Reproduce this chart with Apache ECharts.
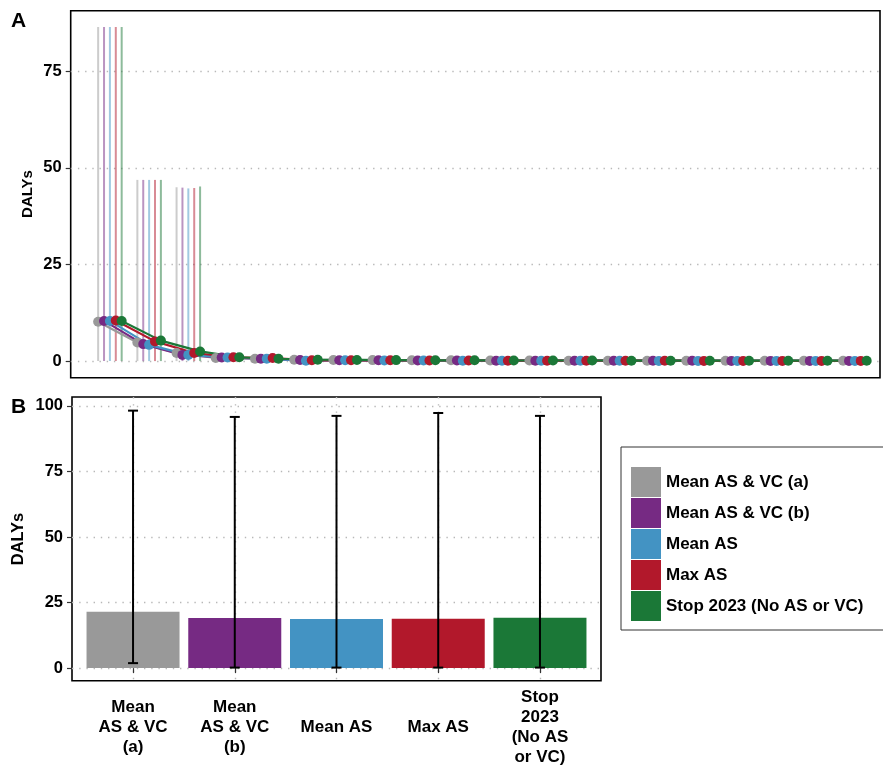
<!DOCTYPE html>
<html><head><meta charset="utf-8">
<script src="https://cdn.jsdelivr.net/npm/echarts@6/dist/echarts.min.js"></script>
<style>html,body{margin:0;padding:0;background:#fff}#c{width:883px;height:770px}</style>
</head><body><div id="c"></div>
<script>
// ---------- data ----------
const scenarios = ['Mean AS & VC (a)', 'Mean AS & VC (b)', 'Mean AS', 'Max AS', 'Stop 2023 (No AS or VC)'];
const colors = ['#999999', '#762A83', '#4393C3', '#B2182B', '#1B7837'];
const colorsAlpha = ['rgba(153,153,153,0.5)', 'rgba(118,42,131,0.5)', 'rgba(67,147,195,0.5)', 'rgba(178,24,43,0.5)', 'rgba(27,120,55,0.5)'];

// Panel A: 20 time steps
const steps = [1,2,3,4,5,6,7,8,9,10,11,12,13,14,15,16,17,18,19,20];
const aMeanVCa = [10.2, 4.8, 2.1, 0.8, 0.6, 0.35, 0.3, 0.25, 0.2, 0.2, 0.15, 0.15, 0.1, 0.1, 0.1, 0.1, 0.1, 0.1, 0.1, 0.1];
const aMeanVCb = [10.4, 4.4, 1.6, 0.95, 0.6, 0.26, 0.2, 0.2, 0.15, 0.15, 0.1, 0.1, 0.1, 0.1, 0.1, 0.1, 0.05, 0.05, 0.05, 0.05];
const aMeanAS  = [10.4, 4.2, 1.6, 0.95, 0.6, 0.1, 0.2, 0.15, 0.15, 0.1, 0.1, 0.1, 0.1, 0.1, 0.05, 0.05, 0.05, 0.05, 0.05, 0.05];
const aMaxAS   = [10.5, 5.1, 2.1, 1.0, 0.8, 0.2, 0.2, 0.2, 0.15, 0.15, 0.1, 0.1, 0.1, 0.1, 0.1, 0.05, 0.05, 0.05, 0.05, 0.05];
const aStop    = [10.4, 5.3, 2.5, 1.0, 0.6, 0.35, 0.3, 0.25, 0.2, 0.2, 0.15, 0.15, 0.15, 0.1, 0.1, 0.1, 0.1, 0.1, 0.1, 0.1];
const aLow     = [0, 0, 0, 0, 0, 0, 0, 0, 0, 0, 0, 0, 0, 0, 0, 0, 0, 0, 0, 0];
const hiMeanVCa = [86.5, 46.9, 45.0, 1.5, 1.1, 0.8, 0.7, 0.6, 0.5, 0.5, 0.4, 0.4, 0.3, 0.3, 0.3, 0.3, 0.3, 0.3, 0.3, 0.3];
const hiMeanVCb = [86.5, 46.9, 44.9, 1.5, 1.1, 0.8, 0.7, 0.6, 0.5, 0.5, 0.4, 0.4, 0.3, 0.3, 0.3, 0.3, 0.3, 0.3, 0.3, 0.3];
const hiMeanAS  = [86.5, 46.9, 44.7, 1.5, 1.1, 0.8, 0.7, 0.6, 0.5, 0.5, 0.4, 0.4, 0.3, 0.3, 0.3, 0.3, 0.3, 0.3, 0.3, 0.3];
const hiMaxAS   = [86.5, 46.9, 44.8, 1.5, 1.1, 0.8, 0.7, 0.6, 0.5, 0.5, 0.4, 0.4, 0.3, 0.3, 0.3, 0.3, 0.3, 0.3, 0.3, 0.3];
const hiStop    = [86.5, 46.9, 45.2, 1.5, 1.1, 0.8, 0.7, 0.6, 0.5, 0.5, 0.4, 0.4, 0.3, 0.3, 0.3, 0.3, 0.3, 0.3, 0.3, 0.3];
const aTicks = [0, 25, 50, 75];

// Panel B
const barPositions = [1, 2, 3, 4, 5];
const barLabels = ['Mean\nAS & VC\n(a)', 'Mean\nAS & VC\n(b)', 'Mean AS', 'Max AS', 'Stop\n2023\n(No AS\nor VC)'];
const barValues = [21.5, 19.1, 18.7, 18.8, 19.2];
const barLow = [1.9, 0.2, 0.2, 0.2, 0.2];
const barHigh = [98.2, 95.8, 96.2, 97.3, 96.2];
const bTicks = [0, 25, 50, 75, 100];

// ---------- chart ----------
const aVals = [aMeanVCa, aMeanVCb, aMeanAS, aMaxAS, aStop];
const aHighs = [hiMeanVCa, hiMeanVCb, hiMeanAS, hiMaxAS, hiStop];
const dodge = [-0.3, -0.15, 0, 0.15, 0.3];
const FONT = '"Liberation Sans", Arial, sans-serif';
const gridLine = { show: true, lineStyle: { color: '#b8b8b8', width: 1.4, type: [1.4, 5.8] } };

const series = [];
scenarios.forEach((name, i) => {
  series.push({
    type: 'bar', name, xAxisIndex: 1, yAxisIndex: 1, barWidth: 93, barGap: '-100%',
    itemStyle: { color: colors[i] }, data: [[barPositions[i], barValues[i]]], z: 2, silent: true
  });
});
series.push({
  type: 'custom', name: 'errB', xAxisIndex: 1, yAxisIndex: 1, z: 5, silent: true,
  data: barPositions.map((p, i) => [p, barLow[i], barHigh[i]]),
  encode: { x: 0, y: [1, 2] },
  renderItem(params, api) {
    const x = api.value(0);
    const lo = api.coord([x, api.value(1)]);
    const hi = api.coord([x, api.value(2)]);
    const w = 5;
    const st = { stroke: '#000', lineWidth: 2 };
    return { type: 'group', children: [
      { type: 'line', shape: { x1: lo[0], y1: lo[1], x2: hi[0], y2: hi[1] }, style: st },
      { type: 'line', shape: { x1: lo[0] - w, y1: lo[1], x2: lo[0] + w, y2: lo[1] }, style: st },
      { type: 'line', shape: { x1: hi[0] - w, y1: hi[1], x2: hi[0] + w, y2: hi[1] }, style: st }
    ]};
  }
});
scenarios.forEach((name, i) => {
  series.push({
    type: 'custom', name: 'errA' + i, xAxisIndex: 0, yAxisIndex: 0, z: 1, silent: true,
    data: steps.map((s, k) => [s + dodge[i], aLow[k], aHighs[i][k]]),
    encode: { x: 0, y: [1, 2] },
    renderItem(params, api) {
      const x = api.value(0);
      const lo = api.coord([x, api.value(1)]);
      const hi = api.coord([x, api.value(2)]);
      return { type: 'line', shape: { x1: lo[0], y1: lo[1], x2: hi[0], y2: hi[1] },
        style: { stroke: colorsAlpha[i], lineWidth: 2 } };
    }
  });
});
scenarios.forEach((name, i) => {
  series.push({
    type: 'line', name, xAxisIndex: 0, yAxisIndex: 0, z: 3, silent: true,
    data: steps.map((s, k) => [s + dodge[i], aVals[i][k]]),
    symbol: 'circle', symbolSize: 10, showSymbol: true,
    lineStyle: { color: colors[i], width: 2.2 },
    itemStyle: { color: colors[i] }
  });
});

const labelStyle = { color: '#000', fontFamily: FONT, fontWeight: 'bold' };

const option = {
  animation: false,
  backgroundColor: '#fff',
  grid: [
    { left: 70.7, top: 10.7, right: 3, bottom: 392.3, show: true, borderColor: '#000', borderWidth: 1.6, backgroundColor: 'transparent', containLabel: false },
    { left: 72, top: 397, right: 282, bottom: 89.3, show: true, borderColor: '#000', borderWidth: 1.6, backgroundColor: 'transparent', containLabel: false }
  ],
  xAxis: [
    { type: 'value', gridIndex: 0, min: 0, max: 20.64, axisLine: { show: false }, axisTick: { show: false }, axisLabel: { show: false }, splitLine: { show: false } },
    { type: 'value', gridIndex: 1, min: 0.4, max: 5.6,
      axisLine: { show: false },
      axisTick: { show: true, customValues: barPositions, length: 5, lineStyle: { color: '#333', width: 1.2 } },
      axisLabel: { show: true, customValues: barPositions, margin: 47, verticalAlign: 'middle', lineHeight: 20, fontSize: 17, ...labelStyle,
        formatter: v => barLabels[barPositions.indexOf(Math.round(v))] || '' },
      splitLine: gridLine }
  ],
  yAxis: [
    { type: 'value', gridIndex: 0, min: -4.3, max: 90.7,
      axisLine: { show: false },
      axisTick: { show: true, customValues: aTicks, length: 5, lineStyle: { color: '#333', width: 1.2 } },
      axisLabel: { show: true, customValues: aTicks, margin: 9, fontSize: 16.5, ...labelStyle },
      splitLine: gridLine },
    { type: 'value', gridIndex: 1, min: -4.8, max: 103.4,
      axisLine: { show: false },
      axisTick: { show: true, customValues: bTicks, length: 5, lineStyle: { color: '#333', width: 1.2 } },
      axisLabel: { show: true, customValues: bTicks, margin: 9, fontSize: 16.5, ...labelStyle },
      splitLine: gridLine }
  ],
  legend: {
    data: scenarios, orient: 'vertical', left: 621, top: 447,
    itemWidth: 30, itemHeight: 30, itemGap: 1, icon: 'rect',
    padding: [20, 30, 9, 10], borderColor: '#333', borderWidth: 1, backgroundColor: '#fff',
    selectedMode: false,
    textStyle: { fontSize: 17, ...labelStyle }
  },
  graphic: [
    { type: 'text', x: 11, y: 21.5, style: { text: 'A', fontSize: 21, fontWeight: 'bold', fontFamily: FONT, fill: '#000', verticalAlign: 'middle' } },
    { type: 'text', x: 11, y: 407.5, style: { text: 'B', fontSize: 21, fontWeight: 'bold', fontFamily: FONT, fill: '#000', verticalAlign: 'middle' } },
    { type: 'text', x: 28, y: 194, rotation: Math.PI / 2, style: { text: 'DALYs', fontSize: 15, fontWeight: 'bold', fontFamily: FONT, fill: '#000', align: 'center', verticalAlign: 'middle' } },
    { type: 'text', x: 18.3, y: 539, rotation: Math.PI / 2, style: { text: 'DALYs', fontSize: 16.5, fontWeight: 'bold', fontFamily: FONT, fill: '#000', align: 'center', verticalAlign: 'middle' } }
  ],
  series
};
const chart = echarts.init(document.getElementById('c'), null, { renderer: 'canvas' });
chart.setOption(option);
</script>
</body></html>
